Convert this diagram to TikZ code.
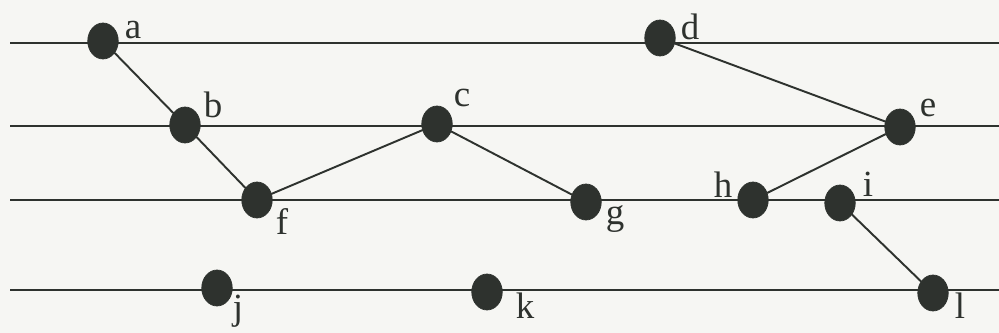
\documentclass[tikz,border=0pt]{standalone}
\usepackage{fontspec}
\setmainfont{Liberation Serif}
\usetikzlibrary{shapes.geometric}
\definecolor{inkgray}{HTML}{2E322E}
\definecolor{paper}{HTML}{F6F6F3}

\begin{document}
\begin{tikzpicture}[x=0.02cm,y=-0.02cm]
\tikzset{
  dotnode/.style={ellipse,fill=inkgray,draw=inkgray,minimum width=6.1mm,minimum height=7.2mm,inner sep=0pt},
  levelline/.style={draw=inkgray,line width=1.3pt},
  treeedge/.style={draw=inkgray,line width=1.1pt,line cap=round},
  letter/.style={text=inkgray,font=\fontsize{21}{22}\selectfont,inner sep=0pt}
}
\fill[paper] (0,0) rectangle (999,333);
\useasboundingbox (0,0) rectangle (999,333);
% the four levels
\coordinate (l_1w) at (10,43);  \coordinate (l_1e) at (999,43);
\coordinate (l_2w) at (10,126); \coordinate (l_2e) at (999,126);
\coordinate (l_3w) at (10,200); \coordinate (l_3e) at (999,200);
\coordinate (l_4w) at (10,290); \coordinate (l_4e) at (999,290);
\draw[levelline] (l_1w) -- (l_1e);
\draw[levelline] (l_2w) -- (l_2e);
\draw[levelline] (l_3w) -- (l_3e);
\draw[levelline] (l_4w) -- (l_4e);
% nodes
\node[dotnode] (n_a) at (103,41) {};
\node[dotnode] (n_b) at (185,125) {};
\node[dotnode] (n_c) at (437,124) {};
\node[dotnode] (n_d) at (660,38) {};
\node[dotnode] (n_e) at (900,127) {};
\node[dotnode] (n_f) at (257,200) {};
\node[dotnode] (n_g) at (586,202) {};
\node[dotnode] (n_h) at (753,200) {};
\node[dotnode] (n_i) at (840,203) {};
\node[dotnode] (n_j) at (217,288) {};
\node[dotnode] (n_k) at (487,292) {};
\node[dotnode] (n_l) at (933,293) {};
% labels
\node[letter] (t_a) at (133,30) {a};
\node[letter] (t_b) at (213,105) {b};
\node[letter] (t_c) at (462,98) {c};
\node[letter] (t_d) at (690,27) {d};
\node[letter] (t_e) at (928,108) {e};
\node[letter] (t_f) at (282,222) {f};
\node[letter] (t_g) at (615,219) {g};
\node[letter] (t_h) at (723,185) {h};
\node[letter] (t_i) at (868,184) {i};
\node[letter] (t_j) at (238,311) {j};
\node[letter] (t_k) at (525,306) {k};
\node[letter] (t_l) at (960,306) {l};
% edges
\draw[treeedge] (n_a) -- (n_b);
\draw[treeedge] (n_b) -- (n_f);
\draw[treeedge] (n_f) -- (n_c);
\draw[treeedge] (n_c) -- (n_g);
\draw[treeedge] (n_d) -- (n_e);
\draw[treeedge] (n_e) -- (n_h);
\draw[treeedge] (n_i) -- (n_l);
\end{tikzpicture}
\end{document}
